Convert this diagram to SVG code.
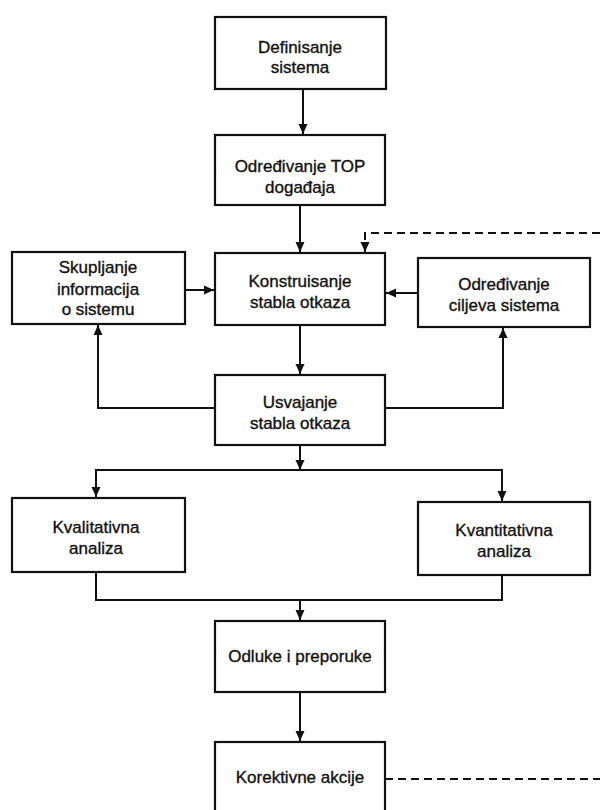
<svg xmlns="http://www.w3.org/2000/svg" width="600" height="810" viewBox="0 0 600 810">
<style>
.box{fill:#fff;stroke:#111;stroke-width:2.2}
.t{font-family:"Liberation Sans",Arial,sans-serif;font-size:17px;fill:#111;stroke:#111;stroke-width:0.35;text-anchor:middle}
.c{fill:none;stroke:#111;stroke-width:2}
.d{fill:none;stroke:#111;stroke-width:2;stroke-dasharray:8 5}
</style>
<defs>
<marker id="ah" markerUnits="userSpaceOnUse" markerWidth="10" markerHeight="10" viewBox="0 0 10 10" refX="10" refY="5" orient="auto">
<path d="M0,0.5 L10,5 L0,9.5 Z" fill="#111"/>
</marker>
</defs>
<rect width="600" height="810" fill="#fff"/>
<g id="connectors">
<path class="c" d="M303,89 V134" marker-end="url(#ah)"/>
<path class="c" d="M300,205 V252" marker-end="url(#ah)"/>
<path class="c" d="M185,290 H214" marker-end="url(#ah)"/>
<path class="c" d="M418,293 H386" marker-end="url(#ah)"/>
<path class="d" d="M600,233 H365 V252" marker-end="url(#ah)"/>
<path class="c" d="M300,325 V374" marker-end="url(#ah)"/>
<path class="c" d="M215,408 H98 V325" marker-end="url(#ah)"/>
<path class="c" d="M385,408 H503 V328" marker-end="url(#ah)"/>
<path class="c" d="M300,445 V470" marker-end="url(#ah)"/>
<path class="c" d="M300,470 H96 V497" marker-end="url(#ah)"/>
<path class="c" d="M300,470 H502 V501" marker-end="url(#ah)"/>
<path class="c" d="M96,572 V600 H502 V575"/>
<path class="c" d="M300,600 V620" marker-end="url(#ah)"/>
<path class="c" d="M300,692 V741" marker-end="url(#ah)"/>
<path class="d" d="M385,779 H600"/>
</g>
<g id="definisanje">
<rect class="box" x="215" y="17" width="171" height="72"/>
<text class="t" x="300" y="53">Definisanje</text>
<text class="t" x="300" y="73">sistema</text>
</g>
<g id="top">
<rect class="box" x="215" y="135" width="170" height="70"/>
<text class="t" x="300" y="172">Određivanje TOP</text>
<text class="t" x="300" y="193">događaja</text>
</g>
<g id="skupljanje">
<rect class="box" x="12" y="252" width="173" height="72"/>
<text class="t" x="98" y="273">Skupljanje</text>
<text class="t" x="98" y="295">informacija</text>
<text class="t" x="98" y="315">o sistemu</text>
</g>
<g id="konstruisanje">
<rect class="box" x="215" y="253" width="170" height="72"/>
<text class="t" x="300" y="287">Konstruisanje</text>
<text class="t" x="300" y="308">stabla otkaza</text>
</g>
<g id="ciljevi">
<rect class="box" x="418" y="258" width="172" height="69"/>
<text class="t" x="504" y="290">Određivanje</text>
<text class="t" x="504" y="311">ciljeva sistema</text>
</g>
<g id="usvajanje">
<rect class="box" x="215" y="375" width="170" height="70"/>
<text class="t" x="300" y="408">Usvajanje</text>
<text class="t" x="300" y="429">stabla otkaza</text>
</g>
<g id="kvalitativna">
<rect class="box" x="12" y="498" width="173" height="74"/>
<text class="t" x="96" y="533">Kvalitativna</text>
<text class="t" x="96" y="554">analiza</text>
</g>
<g id="kvantitativna">
<rect class="box" x="418" y="502" width="172" height="73"/>
<text class="t" x="504" y="536">Kvantitativna</text>
<text class="t" x="504" y="557">analiza</text>
</g>
<g id="odluke">
<rect class="box" x="215" y="621" width="170" height="71"/>
<text class="t" x="300" y="662">Odluke i preporuke</text>
</g>
<g id="korektivne">
<rect class="box" x="215" y="742" width="170" height="80"/>
<text class="t" x="300" y="783">Korektivne akcije</text>
</g>
</svg>
